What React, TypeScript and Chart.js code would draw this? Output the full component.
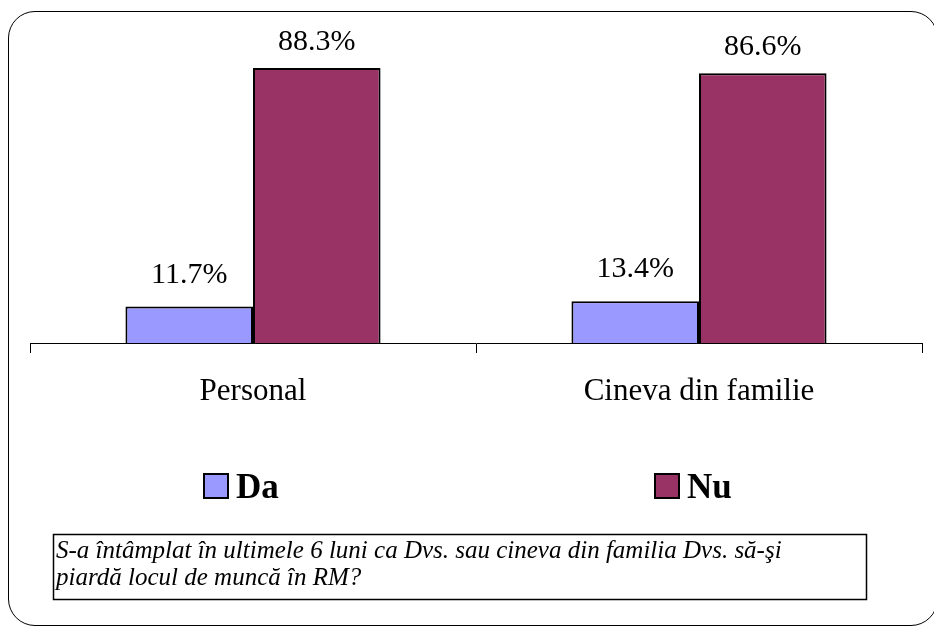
import React, { useEffect, useRef } from "react";
import { Chart, registerables } from "chart.js";

Chart.register(...registerables);

const categories = ["Personal", "Cineva din familie"];
const seriesNames = ["Da", "Nu"];
const daValues = [11.7, 13.4];
const nuValues = [88.3, 86.6];
const seriesColors = ["#9999FF", "#993366"];
const questionLines = [
  "S-a \u00eent\u00e2mplat \u00een ultimele 6 luni ca Dvs. sau cineva din familia Dvs. s\u0103-\u015fi",
  "piard\u0103 locul de munc\u0103 \u00een RM?",
];

const SERIF = "Liberation Serif";
const labelOffsets = [24, 18];
const legendX = [203, 654];

const valueLabelPlugin = {
  id: "valueLabels",
  afterDatasetsDraw(chart: any) {
    const ctx = chart.ctx;
    ctx.save();
    ctx.font = "30px " + SERIF;
    ctx.fillStyle = "#000";
    ctx.textAlign = "center";
    ctx.textBaseline = "alphabetic";
    chart.data.datasets.forEach((ds: any, di: number) => {
      const meta = chart.getDatasetMeta(di);
      meta.data.forEach((el: any, i: number) => {
        const v = ds.data[i] as number;
        ctx.fillText(v.toFixed(1) + "%", el.x, el.y - labelOffsets[di]);
      });
    });
    ctx.restore();
  },
};

const legendAndNotePlugin = {
  id: "legendAndNote",
  afterDraw(chart: any) {
    const ctx = chart.ctx;
    ctx.save();
    chart.data.datasets.forEach((ds: any, di: number) => {
      const x = legendX[di];
      ctx.fillStyle = ds.backgroundColor;
      ctx.fillRect(x + 1, 474, 24, 24);
      ctx.strokeStyle = "#000";
      ctx.lineWidth = 2;
      ctx.strokeRect(x + 1, 474, 24, 24);
      ctx.fillStyle = "#000";
      ctx.font = "bold 35px " + SERIF;
      ctx.textAlign = "left";
      ctx.textBaseline = "alphabetic";
      ctx.fillText(ds.label, x + 33, 498);
    });
    ctx.strokeStyle = "#000";
    ctx.lineWidth = 1.5;
    ctx.strokeRect(53.5, 534.5, 813, 65);
    ctx.fillStyle = "#000";
    ctx.font = "italic 25px " + SERIF;
    ctx.textAlign = "left";
    ctx.textBaseline = "alphabetic";
    ctx.fillText(questionLines[0], 56, 558);
    ctx.fillText(questionLines[1], 56, 585);
    ctx.restore();
  },
};

export default function App() {
  const ref = useRef<HTMLCanvasElement | null>(null);

  useEffect(() => {
    if (!ref.current) return;
    const chart = new Chart(ref.current, {
      type: "bar",
      data: {
        labels: categories,
        datasets: [
          {
            label: seriesNames[0],
            data: daValues,
            backgroundColor: seriesColors[0],
            borderColor: "#000",
            borderWidth: 2,
          },
          {
            label: seriesNames[1],
            data: nuValues,
            backgroundColor: seriesColors[1],
            borderColor: "#000",
            borderWidth: 2,
          },
        ],
      },
      options: {
        responsive: false,
        animation: false,
        layout: { padding: { left: 30, right: 12, top: 31.5, bottom: 188 } },
        datasets: {
          bar: { categoryPercentage: 0.572, barPercentage: 1 },
        },
        plugins: {
          legend: { display: false },
          tooltip: { enabled: false },
        },
        scales: {
          x: {
            offset: true,
            grid: {
              offset: true,
              drawOnChartArea: false,
              drawTicks: true,
              tickLength: 10,
              color: "#000",
              lineWidth: 1,
            },
            border: { display: true, color: "#000", width: 1 },
            ticks: {
              color: "#000",
              font: { family: SERIF, size: 31 },
              padding: 20,
              maxRotation: 0,
            },
            afterFit(scale: any) {
              scale.height = 97;
            },
          },
          y: {
            display: false,
            min: 0,
            max: 100,
          },
        },
      },
      plugins: [valueLabelPlugin, legendAndNotePlugin],
    });
    return () => chart.destroy();
  }, []);

  return (
    <div
      style={{
        position: "absolute",
        left: 0,
        top: 0,
        width: 934,
        height: 628,
        overflow: "hidden",
        background: "#fff",
      }}
    >
      <div
        style={{
          position: "absolute",
          left: 8,
          top: 11,
          width: 930,
          height: 615,
          border: "1.5px solid #000",
          borderRadius: 27,
          boxSizing: "border-box",
        }}
      />
      <canvas
        ref={ref}
        width={934}
        height={628}
        style={{ position: "absolute", left: 0, top: 0, width: 934, height: 628 }}
      />
    </div>
  );
}
